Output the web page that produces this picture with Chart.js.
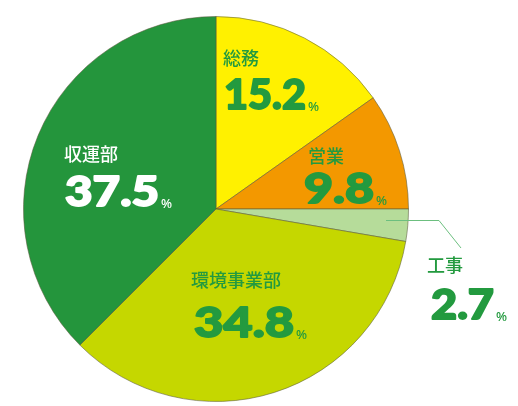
<!DOCTYPE html>
<html>
<head>
<meta charset="utf-8">
<script src="https://cdn.jsdelivr.net/npm/chart.js@4"></script>
<style>
  html, body { margin: 0; padding: 0; background: #fff; }
  #wrap { width: 518px; height: 406px; }
</style>
</head>
<body>
<div id="wrap"><canvas id="chart" width="518" height="406"></canvas></div>
<script>
// data, clockwise from 12 o'clock
const categories = ['総務', '営業', '工事', '環境事業部', '収運部'];
const shares = [15.2, 9.8, 2.7, 34.8, 37.5];
const sliceColors = ['#FFF100', '#F39800', '#B6DC9A', '#C5D700', '#24953C'];

// where each label sits (canvas px)
const labelLayout = [
  { x: 223, nameY: 58,  numX: 224, numY: 110, numW: 82,  color: '#239a3f' },
  { x: 308, nameY: 156, numX: 304, numY: 204, numW: 70,  color: '#239a3f' },
  { x: 427, nameY: 265, numX: 431, numY: 320, numW: 63,  color: '#239a3f' },
  { x: 191, nameY: 280, numX: 194, numY: 338, numW: 100, color: '#239a3f' },
  { x: 64,  nameY: 154, numX: 65,  numY: 207, numW: 94,  color: '#ffffff' }
];

const labelsPlugin = {
  id: 'sliceLabels',
  afterDraw(chart) {
    const ctx = chart.ctx;
    const arc = chart.getDatasetMeta(0).data[2];

    // leader line for the thin slice
    ctx.save();
    ctx.strokeStyle = '#6cbf7f';
    ctx.lineWidth = 1;
    ctx.beginPath();
    ctx.moveTo(arc.x + 170, 220.5);
    ctx.lineTo(439, 220.5);
    ctx.lineTo(461, 248);
    ctx.stroke();
    ctx.restore();

    categories.forEach((name, i) => {
      const p = labelLayout[i];
      ctx.save();
      ctx.fillStyle = p.color;
      ctx.strokeStyle = p.color;
      ctx.textBaseline = 'middle';
      ctx.font = '500 18px "Noto Sans CJK JP"';
      ctx.fillText(name, p.x, p.nameY);

      const num = shares[i].toFixed(1);
      ctx.textBaseline = 'alphabetic';
      ctx.font = '900 41px Lato';
      const w = ctx.measureText(num).width;
      ctx.save();
      ctx.translate(p.numX, p.numY - 0.8);
      ctx.scale(p.numW / w, 1);
      ctx.lineWidth = 1.8;
      ctx.lineJoin = 'round';
      ctx.fillText(num, 0, 0);
      ctx.strokeText(num, 0, 0);
      ctx.restore();

      ctx.font = '500 13px "Noto Sans"';
      ctx.fillText('%', p.numX + p.numW + 2, p.numY + 1);
      ctx.restore();
    });
  }
};

new Chart(document.getElementById('chart'), {
  type: 'pie',
  data: {
    labels: categories,
    datasets: [{
      data: shares,
      backgroundColor: sliceColors,
      borderColor: 'rgba(90, 90, 60, 0.55)',
      borderWidth: 1
    }]
  },
  options: {
    responsive: false,
    animation: false,
    layout: { padding: { left: 23, top: 16, right: 109, bottom: 4 } },
    plugins: {
      legend: { display: false },
      tooltip: { enabled: false }
    }
  },
  plugins: [labelsPlugin]
});
</script>
</body>
</html>
